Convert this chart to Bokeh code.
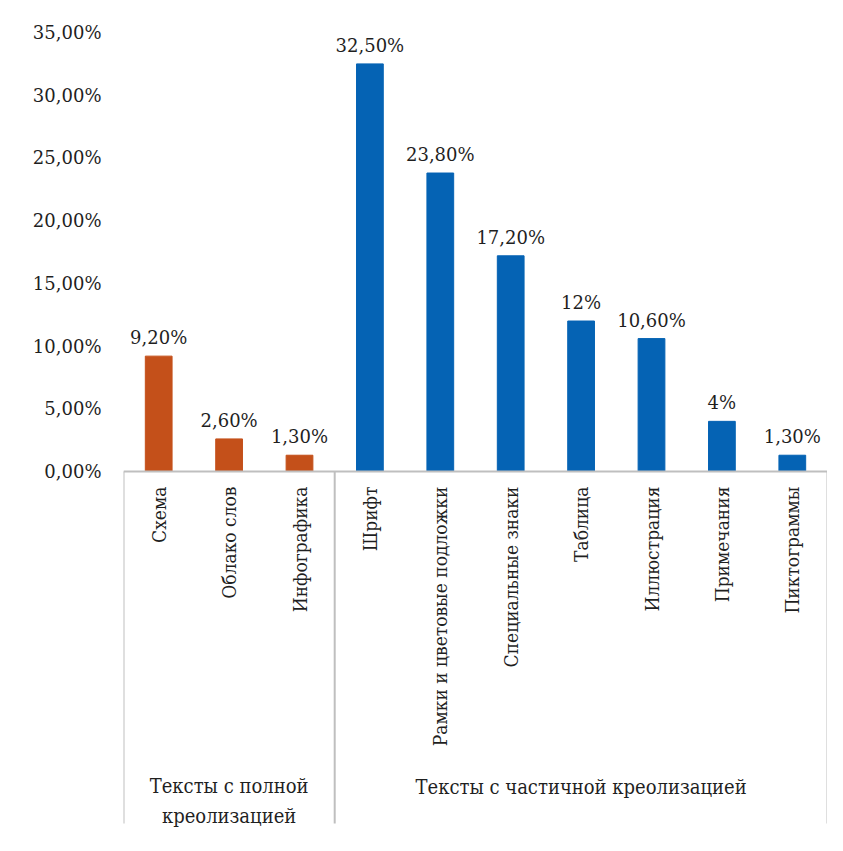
import math
from bokeh.plotting import figure
from bokeh.models import ColumnDataSource, Range1d, FixedTicker
from bokeh.core.properties import value
from bokeh.embed import file_html
from bokeh.resources import INLINE

# ---- data ----
groups = ["Тексты с полной\nкреолизацией", "Тексты с частичной креолизацией"]
group_sizes = [3, 7]
categories = ["Схема", "Облако слов", "Инфографика",
              "Шрифт", "Рамки и цветовые подложки", "Специальные знаки",
              "Таблица", "Иллюстрация", "Примечания", "Пиктограммы"]
values = [9.2, 2.6, 1.3, 32.5, 23.8, 17.2, 12.0, 10.6, 4.0, 1.3]
value_labels = ["9,20%", "2,60%", "1,30%", "32,50%", "23,80%", "17,20%",
                "12%", "10,60%", "4%", "1,30%"]
y_ticks = [0, 5, 10, 15, 20, 25, 30, 35]
y_tick_labels = ["0,00%", "5,00%", "10,00%", "15,00%", "20,00%",
                 "25,00%", "30,00%", "35,00%"]
group_colors = ["#C4501A", "#0563B4"]

# ---- layout ----
FONT = "DejaVu Serif"
FONT_C = "DejaVu Serif Condensed"
TXT = "#1f1f1f"
W, H = 827, 835
n = len(categories)
colors = []
for g, s in enumerate(group_sizes):
    colors += [group_colors[g]] * s

p = figure(width=W, height=H, output_backend="svg", toolbar_location=None,
           x_range=Range1d(0, n), y_range=Range1d(-29.02, 36.2),
           x_axis_location=None, min_border_left=123, min_border_right=0,
           min_border_top=17, min_border_bottom=0)
p.outline_line_color = None
p.xgrid.visible = False
p.ygrid.visible = False
p.background_fill_color = "white"
p.border_fill_color = "white"

ya = p.yaxis[0]
ya.ticker = FixedTicker(ticks=y_ticks)
ya.major_label_overrides = {t: l for t, l in zip(y_ticks, y_tick_labels)}
ya.axis_line_color = None
ya.major_tick_line_color = None
ya.minor_tick_line_color = None
ya.major_label_standoff = 16
ya.major_label_text_font = FONT
ya.major_label_text_font_size = "18px"
ya.major_label_text_color = TXT

xs = [i + 0.5 for i in range(n)]
src = ColumnDataSource(dict(x=xs, top=values, color=colors, lab=value_labels,
                            cat=categories))
p.vbar(x="x", top="top", bottom=0, width=0.38, color="color", source=src)

p.text(x="x", y="top", text="lab", source=src, text_font=value(FONT),
       text_font_size="18px", text_color=TXT, text_align="center",
       text_baseline="bottom", y_offset=-8)

# category axis line and separators
GRAY = "#BFBFBF"
p.segment(x0=[0], y0=[0], x1=[n], y1=[0], line_color=GRAY, line_width=2)
bounds = [0]
for s in group_sizes:
    bounds.append(bounds[-1] + s)
p.segment(x0=bounds, y0=[0] * len(bounds), x1=bounds, y1=[-28.06] * len(bounds),
          line_color=GRAY, line_width=2)

# category labels (vertical)
p.text(x="x", y=-1.2, text="cat", source=src, angle=math.pi / 2,
       text_font=value(FONT_C), text_font_size="19px", text_color=TXT,
       text_align="right", text_baseline="middle")

# group labels
gx = [(bounds[i] + bounds[i + 1]) / 2 for i in range(len(group_sizes))]
p.text(x=gx, y=[-26.23, -25.19], text=groups,
       text_font=value(FONT_C),
       text_font_size="20px", text_color=TXT, text_align="center",
       text_baseline="middle", text_line_height=1.25)

open("out.html", "w").write(file_html(p, INLINE))
